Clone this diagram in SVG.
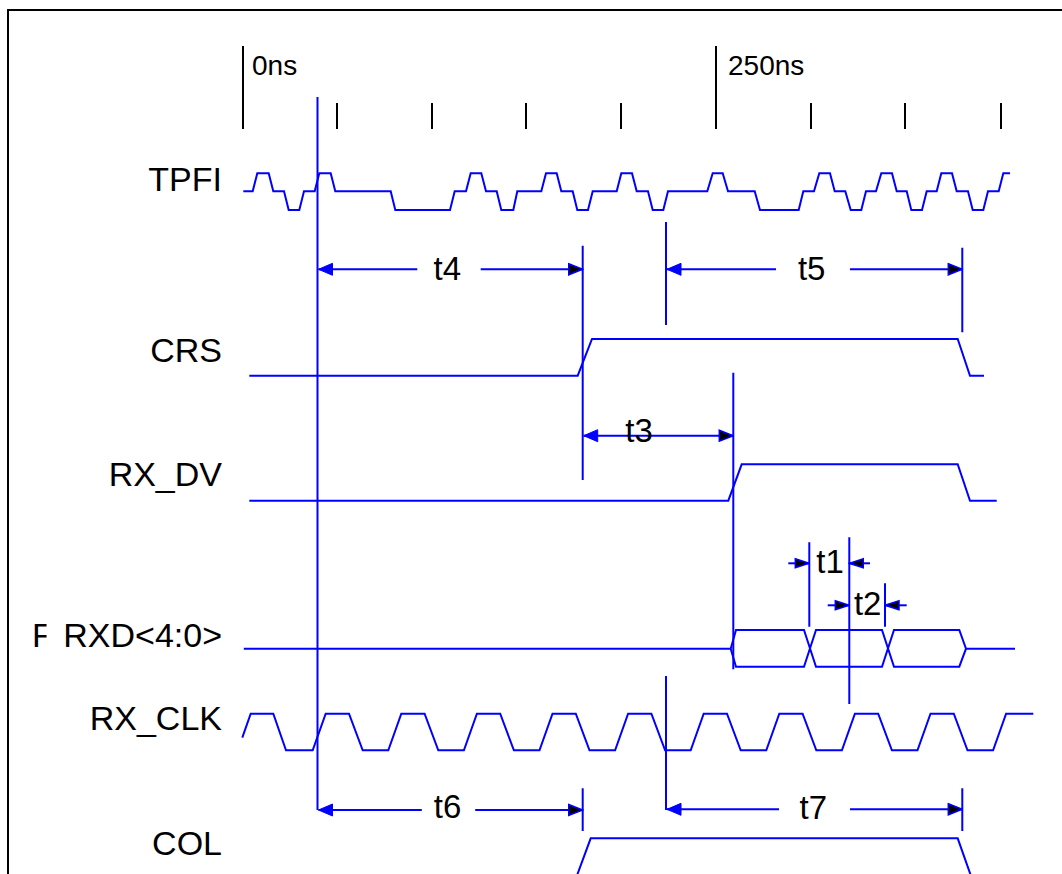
<svg xmlns="http://www.w3.org/2000/svg" width="1062" height="874" viewBox="0 0 1062 874">
<style>
.w{fill:none;stroke:#0000ff;stroke-width:2;stroke-linejoin:miter}
.k{fill:none;stroke:#000;stroke-width:2}
.lbl{font-family:"Liberation Sans",Arial,Helvetica,sans-serif;font-size:34px;fill:#000;text-anchor:end}
.tl{font-family:"Liberation Sans",Arial,Helvetica,sans-serif;font-size:33px;fill:#000;text-anchor:middle}
.ns{font-family:"Liberation Sans",Arial,Helvetica,sans-serif;font-size:28px;fill:#000}
.d{fill:none;stroke:#0000ff;stroke-width:2}
.hb{marker-end:url(#hb)}
.hk{marker-end:url(#hk)}
.hs{marker-end:url(#hs)}
</style>
<defs>
<marker id="hb" markerUnits="userSpaceOnUse" markerWidth="16" markerHeight="14" refX="15" refY="7" orient="auto" viewBox="0 0 16 14"><path d="M1,1 L15,7 L1,13 Z" fill="#0000ff" stroke="#0000ff" stroke-width="1"/></marker>
<marker id="hk" markerUnits="userSpaceOnUse" markerWidth="16" markerHeight="14" refX="15" refY="7" orient="auto" viewBox="0 0 16 14"><path d="M1,1.5 L15,7 L1,12.5 Z" fill="#000" stroke="#0000ff" stroke-width="1.5"/></marker>
<marker id="hs" markerUnits="userSpaceOnUse" markerWidth="16" markerHeight="12" refX="15" refY="6" orient="auto" viewBox="0 0 16 12"><path d="M1,1.5 L15,6 L1,10.5 Z" fill="#000" stroke="#0000ff" stroke-width="1.5"/></marker>
<clipPath id="clipF"><rect x="0" y="600" width="46.5" height="60"/></clipPath>
</defs>
<rect width="1062" height="874" fill="#fff"/>
<g id="frame"><path class="k" d="M8,874 L8,10 L1062,10"/></g>
<g id="ruler">
<path class="k" d="M243,46 L243,129 M716,46 L716,129 M337,103 L337,129 M432,103 L432,129 M526,103 L526,129 M621,103 L621,129 M811,103 L811,129 M905,103 L905,129 M1001,103 L1001,129"/>
<text class="ns" x="252" y="75">0ns</text>
<text class="ns" x="728" y="75">250ns</text>
</g>
<g id="sig-tpfi">
<text class="lbl" x="222" y="191">TPFI</text>
<path class="w" d="M243.3,191.3 L252.7,191.3 L257.3,173.3 L268.7,173.3 L273.3,191.3 L284,191.3 L288.7,210 L299.3,210 L304,191.3 L314.7,191.3 L319.3,173.3 L330.7,173.3 L335.3,191.3 L390.7,191.3 L395.3,210 L450,210 L454.7,191.3 L466,191.3 L470.7,173.3 L481.3,173.3 L486,191.3 L496.7,191.3 L501.3,210 L513.3,210 L517.3,191.3 L541.3,191.3 L546,173.3 L556.7,173.3 L561.3,191.3 L572.7,191.3 L577.3,210 L588,210 L592.7,191.3 L616.7,191.3 L621.3,173.3 L632,173.3 L636.7,191.3 L648,191.3 L652.7,210 L663.3,210 L668,191.3 L707.3,191.3 L712.7,173.3 L722.7,173.3 L728,191.3 L754.7,191.3 L760,210 L798.7,210 L803.3,191.3 L814,191.3 L819.3,173.3 L830,173.3 L834.7,191.3 L845.3,191.3 L850.7,210 L861.3,210 L866,191.3 L876,191.3 L881.3,173.3 L892,173.3 L896.7,191.3 L906.7,191.3 L911.3,210 L922,210 L926.7,191.3 L936.7,191.3 L941.3,173.3 L952,173.3 L956.7,191.3 L968,191.3 L972.7,210 L983.3,210 L988,191.3 L998.7,191.3 L1003.3,173.3 L1010,173.3"/>
</g>
<g id="sig-crs">
<text class="lbl" x="222" y="362">CRS</text>
<path class="w" d="M249.3,375.7 L577.7,375.7 L592,339 L957.7,339 L970,375.7 L984,375.7"/>
</g>
<g id="sig-rxdv">
<text class="lbl" x="222" y="486">RX_DV</text>
<path class="w" d="M249.3,500.7 L728.3,500.7 L741.7,464.3 L957.7,464.3 L970,500.7 L996.7,500.7"/>
</g>
<g id="sig-rxd">
<text class="lbl" x="32" y="647" style="text-anchor:start" clip-path="url(#clipF)">F</text>
<text class="lbl" x="222" y="647">RXD&lt;4:0&gt;</text>
<path class="w" d="M243.8,648.7 L730.7,648.7 M730.7,648.7 L736,630 L804,630 L816,666.7 L882,666.7 L894,630 L959.3,630 L966,648.7 L959.3,666.7 L894,666.7 L882,630 L816,630 L804,666.7 L736,666.7 Z M966,648.7 L1015,648.7"/>
</g>
<g id="sig-rxclk">
<text class="lbl" x="222" y="730">RX_CLK</text>
<path class="w" d="M242.3,737.7 L250.7,713.7 L273.3,713.7 L286,750.3 L312.7,750.3 L325.7,713.7 L349,713.7 L362.7,750.3 L388.3,750.3 L401.3,713.7 L424.6,713.7 L438.3,750.3 L463.9,750.3 L476.9,713.7 L500.2,713.7 L513.9,750.3 L539.5,750.3 L552.5,713.7 L575.8,713.7 L589.5,750.3 L615.1,750.3 L628.1,713.7 L651.4,713.7 L665.1,750.3 L690.7,750.3 L703.7,713.7 L727,713.7 L740.7,750.3 L766.3,750.3 L779.3,713.7 L802.6,713.7 L816.3,750.3 L841.9,750.3 L854.9,713.7 L878.2,713.7 L891.9,750.3 L917.5,750.3 L930.5,713.7 L953.8,713.7 L967.5,750.3 L993.1,750.3 L1006.1,713.7 L1033.3,713.7"/>
</g>
<g id="sig-col">
<text class="lbl" x="222" y="855">COL</text>
<path class="w" d="M576.8,876 L590.7,838.3 L957.7,838.3 L971,876"/>
</g>
<g id="connectors">
<path class="d" d="M317.5,97 L317.5,810 M582.7,245.7 L582.7,480 M666,222 L666,325 M962.3,247.7 L962.3,332.3 M733.3,372.7 L733.3,669.3 M809.3,542.3 L809.3,626.7 M849.3,537.3 L849.3,704 M885,583.3 L885,626.7 M666,676 L666,810 M582.7,788.3 L582.7,831 M962.3,788.3 L962.3,831"/>
<path class="d hb" d="M417.3,269.3 L318.5,269.3"/>
<path class="d hk" d="M480.7,269.3 L582.7,269.3"/>
<path class="d hb" d="M776,269.3 L667,269.3"/>
<path class="d hk" d="M850,269.3 L962.3,269.3"/>
<path class="d hb" d="M640,435.7 L583.7,435.7"/>
<path class="d hk" d="M640,435.7 L733.3,435.7"/>
<path class="d hs" d="M788.3,563.3 L809.3,563.3"/>
<path class="d hs" d="M870,563.3 L849.3,563.3"/>
<path class="d hs" d="M827.7,605.3 L849.3,605.3"/>
<path class="d hs" d="M906.7,605.3 L885,605.3"/>
<path class="d hb" d="M421.8,810 L318.5,810"/>
<path class="d hk" d="M475.2,810 L582.7,810"/>
<path class="d hb" d="M779,809.3 L667,809.3"/>
<path class="d hk" d="M850,809.3 L962.3,809.3"/>
<text class="tl" x="447.3" y="280">t4</text>
<text class="tl" x="811.7" y="280">t5</text>
<text class="tl" x="639" y="441.7">t3</text>
<text class="tl" x="830" y="572.7">t1</text>
<text class="tl" x="867.7" y="615">t2</text>
<text class="tl" x="447.6" y="818.3">t6</text>
<text class="tl" x="813.3" y="819.3">t7</text>
</g>
</svg>
